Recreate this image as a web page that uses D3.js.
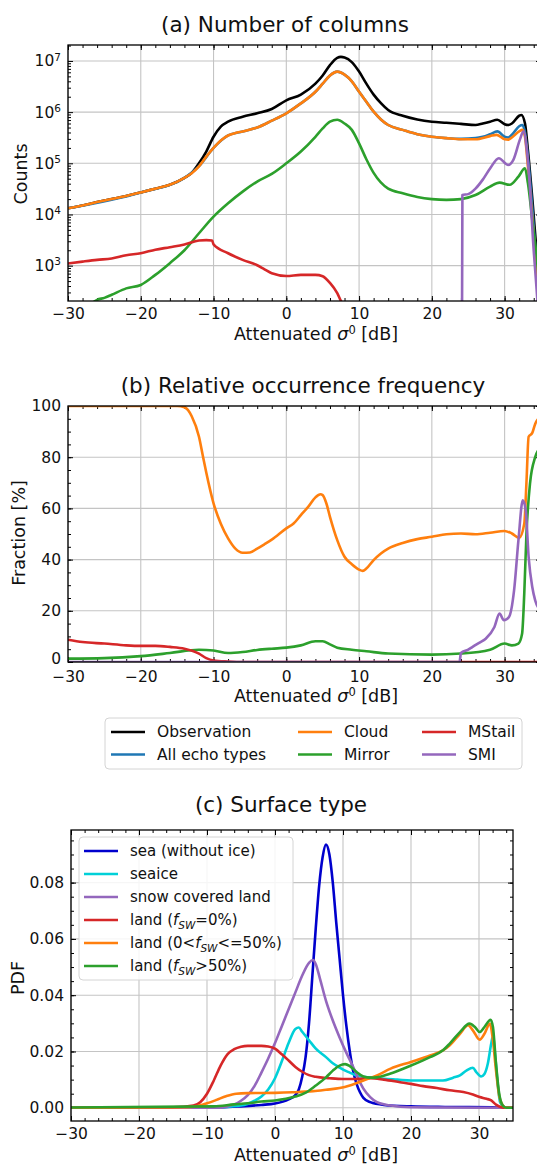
<!DOCTYPE html>
<html>
<head>
<meta charset="utf-8">
<script src="https://cdn.jsdelivr.net/npm/d3@7"></script>
<style>
  body { margin: 0; background: #fff; }
  text { font-family: "DejaVu Sans", sans-serif; fill: #111; }
</style>
</head>
<body>
<div id="main"></div>
<script>
// ---- data: panel (a) number of columns, [sigma0 dB, counts]
const obsCounts = [[-30,1.32e4],[-28,1.5e4],[-26,1.75e4],[-24,2.0e4],[-22,2.3e4],[-20,2.7e4],[-18,3.2e4],[-16,3.8e4],[-14,5.2e4],[-13,6.5e4],[-12,1.0e5],[-11,1.7e5],[-10,3.3e5],[-9,5.2e5],[-8,6.5e5],[-6,8.1e5],[-4,9.5e5],[-2,1.15e6],[0,1.7e6],[2,2.2e6],[4,3.6e6],[5,5.2e6],[6,8.3e6],[7,1.15e7],[7.5,1.2e7],[8,1.17e7],[9,9.5e6],[10,6.2e6],[11,3.6e6],[12,2.2e6],[13,1.5e6],[14,1.1e6],[16,8.5e5],[18,7.2e5],[20,6.5e5],[22,6.2e5],[24,5.9e5],[26,5.6e5],[27,6.0e5],[28,6.5e5],[29,7.1e5],[30,5.8e5],[30.5,5.6e5],[31,6.0e5],[32,8.5e5],[32.3,8.8e5],[32.8,6.0e5],[33.2,1.8e5],[33.9,1.4e4],[34.4,1.8e3],[35,150]];
const allCounts = [[-30,1.32e4],[-20,2.7e4],[-14,5.2e4],[-12,8.8e4],[-10,2.0e5],[-8,3.5e5],[-6,4.2e5],[-4,5.0e5],[-2,6.8e5],[0,9.5e5],[2,1.48e6],[4,2.5e6],[5,3.6e6],[6,5.2e6],[7,6.2e6],[8,5.4e6],[9,4.0e6],[10,2.5e6],[11,1.6e6],[12,1.02e6],[13,7.2e5],[14,5.6e5],[16,4.5e5],[18,3.7e5],[20,3.3e5],[22,3.1e5],[24,3.0e5],[26,3.1e5],[27,3.3e5],[28,3.7e5],[29,4.2e5],[30,3.3e5],[30.5,3.2e5],[31,3.6e5],[32,5.3e5],[32.45,5.6e5],[32.8,4.0e5],[33.2,1.35e5],[33.9,9e3],[34.4,950],[35,100]];
const cloudCounts = [[-30,1.32e4],[-28,1.5e4],[-26,1.75e4],[-24,2.0e4],[-22,2.3e4],[-20,2.7e4],[-18,3.2e4],[-16,3.8e4],[-14,5.2e4],[-13,6.4e4],[-12,8.7e4],[-11,1.35e5],[-10,2.0e5],[-9,2.8e5],[-8,3.5e5],[-7,3.9e5],[-6,4.2e5],[-4,5.0e5],[-2,6.8e5],[0,9.5e5],[2,1.48e6],[4,2.5e6],[5,3.6e6],[6,5.2e6],[7,6.2e6],[8,5.4e6],[9,4.0e6],[10,2.5e6],[11,1.6e6],[12,1.02e6],[13,7.2e5],[14,5.6e5],[16,4.5e5],[18,3.7e5],[20,3.3e5],[22,3.1e5],[24,2.95e5],[26,2.95e5],[28,3.4e5],[28.9,3.6e5],[30,2.95e5],[30.5,2.9e5],[31,3.2e5],[32,4.2e5],[32.45,4.5e5],[32.8,3.3e5],[33.2,8.7e4],[33.9,5.8e3],[34.4,720],[35,80]];
const mirrorCounts = [[-27.5,150],[-26,215],[-25,235],[-24,270],[-22,360],[-20,420],[-18,660],[-16,1.12e3],[-14,2.0e3],[-12,4.3e3],[-10,9.1e3],[-8,1.66e4],[-6,2.8e4],[-4,4.4e4],[-2,6.2e4],[0,1.0e5],[2,1.7e5],[4,3.3e5],[5,4.8e5],[6,6.5e5],[7,7.1e5],[8,6.0e5],[9,4.5e5],[10,2.45e5],[11,1.2e5],[12,6.5e4],[14,3.2e4],[16,2.6e4],[18,2.2e4],[20,2.0e4],[22,1.93e4],[24,2.0e4],[26,2.4e4],[28,3.5e4],[29.3,4.2e4],[30.7,3.8e4],[31.9,5.5e4],[32.8,8.0e4],[33.2,4.1e4],[33.9,5.8e3],[34.4,1.5e3],[35,150]];
const mstailCounts = [[-30,1.1e3],[-28,1.2e3],[-26,1.3e3],[-24,1.38e3],[-22,1.6e3],[-20,1.75e3],[-18,2.05e3],[-16,2.3e3],[-14,2.6e3],[-12,3.1e3],[-11,3.15e3],[-10.2,3.1e3],[-10,2.6e3],[-8,1.75e3],[-6,1.3e3],[-4,1.02e3],[-3,850],[-2,710],[0,630],[2,660],[4,660],[5,620],[6,460],[7,290],[7.5,205],[8,150]];
const smiCounts = [[24.1,1],[24.2,2.4e4],[25,2.5e4],[26,3.2e4],[27,4.8e4],[28,7.9e4],[29.2,1.26e5],[30.5,9.3e4],[31.2,1.17e5],[32.1,2.9e5],[32.6,4.2e5],[33.05,1.8e5],[33.5,3.0e4],[33.9,3.2e3],[34.4,340],[35,20]];

// ---- data: panel (b) relative occurrence frequency [%]
const cloudFrac = [[-30,100],[-20,100],[-15,100],[-14,99.5],[-13,96],[-12,88],[-11.5,81],[-11,74],[-10,62],[-9,54],[-8,48.3],[-7,44.3],[-6,42.7],[-5,42.8],[-4,44.3],[-3,46],[-2,47.8],[0,52.2],[1,54.1],[2,57.4],[3,60.6],[4,64.3],[4.7,65.5],[5,65.2],[5.5,62],[6,56.7],[7,47.6],[8,41.1],[9,38.2],[10,36.1],[10.5,35.6],[11,36.5],[12,39.8],[13,42.4],[14,44.3],[16,46.5],[18,48],[20,48.9],[22,49.9],[24,50.2],[26,49.9],[28,50.5],[30,51.2],[31,50.2],[32,48.5],[32.7,54],[33,70],[33.3,88],[33.8,89.5],[34.2,93],[35,96]];
const mirrorFrac = [[-30,1.3],[-25,1.5],[-20,2.3],[-16,3.5],[-12,4.8],[-10,4.5],[-8,3.5],[-6,3.9],[-4,4.7],[-2,5.2],[0,5.6],[2,6.5],[4,8.1],[5,8.1],[6,6.9],[7,5.6],[9,4.8],[11,4.2],[14,3.3],[20,2.9],[24,3.3],[28,4.8],[30,7.2],[31,6.5],[31.9,7.2],[32.4,11],[32.7,26.7],[33,50],[33.5,70],[34.2,80],[35,84]];
const mstailFrac = [[-30,8.7],[-28,7.8],[-25,7.2],[-22,6.5],[-20,6.3],[-18,6.3],[-16,5.9],[-14,5.2],[-12,3.3],[-11,1.5],[-10,0.6],[-8,0.2],[-6,0],[35,0]];
const smiFrac = [[-30,0],[23.8,0],[24,3.5],[25,4.8],[25.6,5.9],[26.5,7.5],[27.4,9.1],[28.6,13.7],[29.3,18.9],[29.9,16.3],[30.6,17.6],[31.3,28],[31.9,47.6],[32.5,63.2],[32.9,59.3],[33.3,41],[33.8,29.3],[34.2,24.1],[35,20]];

// ---- data: panel (c) PDF by surface type
const seaPdf = [[-30,0],[-10,0],[-5,0.0005],[-2,0.001],[0,0.0015],[2,0.003],[3,0.0045],[3.5,0.0065],[4,0.011],[4.5,0.018],[5,0.030],[5.5,0.047],[6,0.064],[6.5,0.079],[7,0.089],[7.5,0.0935],[8,0.090],[8.5,0.080],[9,0.066],[9.5,0.053],[10,0.040],[10.5,0.029],[11,0.020],[11.5,0.013],[12,0.0085],[12.5,0.0055],[13,0.0035],[14,0.002],[16,0.001],[20,0.0005],[25,0.0003],[32,0.0002],[33,0],[35,0]];
const seaicePdf = [[-30,0],[-10,0],[-5,0.0008],[-3,0.0025],[-2,0.004],[-1,0.0065],[0,0.0105],[1,0.0165],[2,0.023],[3,0.028],[3.5,0.0285],[4,0.027],[5,0.024],[6,0.021],[7.5,0.018],[8.5,0.0158],[9.5,0.0143],[10.5,0.013],[11,0.0125],[12,0.0115],[13,0.011],[14,0.0108],[16,0.0103],[18,0.01],[20,0.0097],[24.7,0.0097],[26.2,0.0107],[27.2,0.0115],[28.2,0.0133],[29.1,0.0142],[29.6,0.0127],[30.3,0.0111],[30.8,0.012],[31.3,0.0157],[31.8,0.0228],[32.05,0.0255],[32.4,0.018],[32.8,0.0074],[33.1,0.002],[33.8,0.0002],[35,0]];
const snowPdf = [[-30,0],[-8,0],[-7,0.0005],[-6,0.0012],[-5,0.0025],[-4,0.0045],[-3,0.0078],[-2,0.0125],[-1,0.0175],[0,0.023],[1,0.029],[2,0.035],[3,0.041],[4,0.047],[5,0.0515],[5.6,0.0525],[6,0.051],[6.6,0.046],[7.5,0.038],[8.5,0.031],[9.5,0.025],[10.5,0.0195],[11.5,0.0145],[12.5,0.009],[13,0.0068],[14,0.0038],[15,0.002],[17,0.0008],[20,0.0002],[33,0],[35,0]];
const land0Pdf = [[-30,0],[-15,0.0002],[-12,0.0008],[-11,0.002],[-10,0.005],[-9,0.0097],[-8,0.015],[-7,0.019],[-6,0.0208],[-5,0.0217],[-4,0.022],[-2,0.022],[-1,0.0218],[0,0.021],[1,0.019],[2,0.0168],[3,0.0145],[4,0.0128],[5,0.0116],[6,0.011],[8,0.0105],[10,0.0102],[12,0.0102],[14,0.0105],[16,0.01],[18.4,0.0091],[20,0.0085],[21.8,0.0077],[23.8,0.007],[25.7,0.0062],[27.7,0.0056],[29.1,0.0047],[30.1,0.0038],[31.1,0.0032],[31.8,0.0026],[32.5,0.0011],[33.3,0.0002],[34,0],[35,0]];
const land050Pdf = [[-30,0],[-13,0.0002],[-11.6,0.0005],[-10,0.0016],[-8.6,0.0028],[-7.2,0.0041],[-5.7,0.005],[-4,0.0052],[0,0.0053],[2.6,0.0055],[5.6,0.0059],[7.5,0.0064],[9.5,0.007],[11,0.0079],[13,0.0097],[15,0.0115],[17,0.0139],[20,0.0163],[22.8,0.0186],[24.7,0.0204],[25.7,0.0222],[27.2,0.0263],[28.4,0.0293],[29.1,0.0275],[30.1,0.0242],[30.8,0.0263],[31.6,0.0299],[32,0.025],[32.5,0.0133],[33,0.0038],[33.5,0.0008],[34,0],[35,0]];
const land50Pdf = [[-30,0.0001],[-9,0.0005],[-6,0.0012],[-4,0.0016],[-2,0.0022],[0,0.0026],[1.6,0.0032],[3,0.004],[4.6,0.0055],[6,0.0079],[7.5,0.0108],[8.5,0.0132],[9.5,0.015],[10.3,0.0155],[11,0.0148],[12,0.0127],[13,0.0111],[14,0.0107],[15,0.0108],[16.9,0.0121],[20,0.015],[22.8,0.018],[24.7,0.0204],[25.7,0.0228],[27.2,0.0269],[28.6,0.0299],[29.4,0.0287],[30.1,0.0269],[30.8,0.0287],[31.7,0.0313],[32.05,0.0287],[32.5,0.0157],[32.9,0.0062],[33.5,0.0008],[34,0],[35,0]];

// ---- labels / ticks
const echoNames = ["Observation", "All echo types", "Cloud", "Mirror", "MStail", "SMI"];
const echoColors = ["#000000", "#1f77b4", "#ff7f0e", "#2ca02c", "#d62728", "#9467bd"];
const surfaceColors = ["#0000cd", "#00d0d8", "#9467bd", "#d62728", "#ff7f0e", "#2ca02c"];
// label pieces: [text, "i" italic / "s" italic subscript]
const surfaceLabels = [
  [["sea (without ice)"]],
  [["seaice"]],
  [["snow covered land"]],
  [["land ("], ["f", "i"], ["SW", "s"], ["=0%)"]],
  [["land (0<"], ["f", "i"], ["SW", "s"], ["<=50%)"]],
  [["land ("], ["f", "i"], ["SW", "s"], [">50%)"]]
];
const xTicks = [-30, -20, -10, 0, 10, 20, 30];
const countTicks = [1e3, 1e4, 1e5, 1e6, 1e7];
const fracTicks = [0, 20, 40, 60, 80, 100];
const pdfTicks = [0, 0.02, 0.04, 0.06, 0.08];

const W = 537, H = 1165;
const svg = d3.select("#main").append("svg").attr("width", W).attr("height", H);

const range = (a, b, s) => d3.range(a, b + s / 2, s).map(v => +v.toFixed(4));

function frame(box, x, y, o) {
  const g = svg.append("g");
  // grid
  g.append("g").selectAll("line").data(o.xMajor).join("line")
    .attr("x1", d => x(d)).attr("x2", d => x(d)).attr("y1", box.t).attr("y2", box.b)
    .attr("stroke", "#c4c4c4").attr("stroke-width", 1.1);
  g.append("g").selectAll("line").data(o.yMajor).join("line")
    .attr("y1", d => y(d)).attr("y2", d => y(d)).attr("x1", box.l).attr("x2", box.r)
    .attr("stroke", "#c4c4c4").attr("stroke-width", 1.1);

  const makers = [() => d3.axisBottom(x), () => d3.axisTop(x), () => d3.axisLeft(y), () => d3.axisRight(y)];
  const places = [`translate(0,${box.b})`, `translate(0,${box.t})`, `translate(${box.l},0)`, `translate(${box.r},0)`];
  makers.forEach((mk, k) => {
    const minor = k < 2 ? o.xMinor : o.yMinor;
    const major = k < 2 ? o.xMajor : o.yMajor;
    const gm = g.append("g").attr("transform", places[k])
      .call(mk().tickValues(minor).tickSize(-3).tickFormat(""));
    gm.select(".domain").remove();

    const ax = mk().tickValues(major).tickSize(-5).tickPadding(k === 0 ? (o.xPad || 7) : 7);
    if (k === 1 || k === 3) ax.tickFormat("");
    else if (k === 0) ax.tickFormat(d3.format("d"));
    else if (o.yFormat) ax.tickFormat(o.yFormat);
    const gM = g.append("g").attr("transform", places[k]).call(ax);
    gM.select(".domain").remove();
    gM.selectAll("text").style("font-size", "15.5px").attr("fill", "#111");
    if (k === 2 && o.nudgeZero) gM.selectAll("text").filter(d => d === 0).attr("dy", "0.1em");
    if (k === 2 && o.log) {
      gM.selectAll("text").each(function(d) {
        const t = d3.select(this).text("10");
        t.append("tspan").attr("dy", "-0.55em").style("font-size", "10.5px").text(Math.round(Math.log10(d)));
      });
    }
  });
  g.selectAll(".tick line").attr("stroke", "#000").attr("stroke-width", 1);

  svg.append("clipPath").attr("id", o.id).append("rect")
    .attr("x", box.l).attr("y", box.t).attr("width", box.r - box.l).attr("height", box.b - box.t);
}

function spine(box) {
  svg.append("rect").attr("x", box.l).attr("y", box.t)
    .attr("width", box.r - box.l).attr("height", box.b - box.t)
    .attr("fill", "none").attr("stroke", "#000").attr("stroke-width", 1.3);
}

function drawLines(series, colors, x, y, id) {
  const line = d3.line().x(d => x(d[0])).y(d => y(d[1])).curve(d3.curveMonotoneX);
  svg.append("g").attr("clip-path", `url(#${id})`)
    .selectAll("path").data(series).join("path")
    .attr("d", d => line(d))
    .attr("fill", "none")
    .attr("stroke", (d, i) => colors[i])
    .attr("stroke-width", 2.6)
    .attr("stroke-linejoin", "round");
}

function xLabel(cx, yb) {
  const t = svg.append("text").attr("x", cx).attr("y", yb).attr("text-anchor", "middle").style("font-size", "17.5px");
  t.append("tspan").text("Attenuated ");
  t.append("tspan").style("font-style", "italic").text("σ");
  t.append("tspan").attr("dy", -6).style("font-size", "11.5px").text("0");
  t.append("tspan").attr("dy", 6).text(" [dB]");
}

function yLabel(txt, cx, cy) {
  svg.append("text").attr("transform", `translate(${cx},${cy}) rotate(-90)`)
    .attr("text-anchor", "middle").attr("dominant-baseline", "central")
    .style("font-size", "17.5px").text(txt);
}

function title(txt, cx, yb) {
  svg.append("text").attr("x", cx).attr("y", yb).attr("text-anchor", "middle")
    .style("font-size", "21.5px").text(txt);
}

// ---------- panel (a)
const boxA = { l: 68, r: 541, t: 45, b: 301 };
const xA = d3.scaleLinear().domain([-30, 35]).range([boxA.l, boxA.r]);
const yA = d3.scaleLog().domain([204, 2.05e7]).range([boxA.b, boxA.t]);
const logMinor = [];
[1e2, 1e3, 1e4, 1e5, 1e6, 1e7].forEach(p => d3.range(2, 10).forEach(m => { if (p * m >= 204 && p * m <= 2.05e7) logMinor.push(p * m); }));
frame(boxA, xA, yA, { id: "clipA", xMajor: xTicks, xMinor: range(-30, 34, 2), yMajor: countTicks, yMinor: logMinor, log: true });
drawLines([obsCounts, allCounts, cloudCounts, mirrorCounts, mstailCounts, smiCounts], echoColors, xA, yA, "clipA");
spine(boxA);
title("(a) Number of columns", 285, 32);
yLabel("Counts", 21, 174);
xLabel(316, 340);

// ---------- panel (b)
const boxB = { l: 68, r: 541, t: 406, b: 662 };
const xB = d3.scaleLinear().domain([-30, 35]).range([boxB.l, boxB.r]);
const yB = d3.scaleLinear().domain([0, 100]).range([boxB.b, boxB.t]);
frame(boxB, xB, yB, { id: "clipB", xMajor: xTicks, xMinor: range(-30, 34, 2), yMajor: fracTicks, yMinor: range(0, 100, 5), yFormat: d3.format("d"), xPad: 9, nudgeZero: true });
drawLines([cloudFrac, mirrorFrac, mstailFrac, smiFrac], echoColors.slice(2), xB, yB, "clipB");
spine(boxB);
title("(b) Relative occurrence frequency", 303, 393);
yLabel("Fraction [%]", 19, 533);
xLabel(316, 702);

// legend for (a)/(b)
const legAB = svg.append("g");
legAB.append("rect").attr("x", 105).attr("y", 718).attr("width", 417).attr("height", 51)
  .attr("rx", 4).attr("fill", "#fff").attr("stroke", "#d4d4d4").attr("stroke-width", 1);
const legCols = [111, 298, 422];
echoNames.forEach((name, i) => {
  const cx = legCols[Math.floor(i / 2)], cy = 732 + (i % 2) * 22.5;
  legAB.append("line").attr("x1", cx).attr("x2", cx + 34).attr("y1", cy).attr("y2", cy)
    .attr("stroke", echoColors[i]).attr("stroke-width", 2.6);
  legAB.append("text").attr("x", cx + 46).attr("y", cy).attr("dominant-baseline", "central")
    .style("font-size", "15.5px").text(name);
});

// ---------- panel (c)
const boxC = { l: 71, r: 513, t: 830, b: 1121 };
const xC = d3.scaleLinear().domain([-30, 35]).range([boxC.l, boxC.r]);
const yC = d3.scaleLinear().domain([-0.0047, 0.0987]).range([boxC.b, boxC.t]);
frame(boxC, xC, yC, { id: "clipC", xMajor: xTicks, xMinor: range(-30, 34, 2), yMajor: pdfTicks, yMinor: range(0, 0.095, 0.005), yFormat: d3.format(".2f") });
drawLines([seaPdf, seaicePdf, snowPdf, land0Pdf, land050Pdf, land50Pdf], surfaceColors, xC, yC, "clipC");
spine(boxC);
title("(c) Surface type", 281, 812);
yLabel("PDF", 18, 978);
xLabel(316, 1161);

const legC = svg.append("g");
legC.append("rect").attr("x", 79).attr("y", 837).attr("width", 214).attr("height", 143)
  .attr("rx", 4).attr("fill", "#fff").attr("fill-opacity", 0.85).attr("stroke", "#d4d4d4").attr("stroke-width", 1);
surfaceLabels.forEach((parts, i) => {
  const cy = 851 + i * 23;
  legC.append("line").attr("x1", 84).attr("x2", 118).attr("y1", cy).attr("y2", cy)
    .attr("stroke", surfaceColors[i]).attr("stroke-width", 2.6);
  const t = legC.append("text").attr("x", 130).attr("y", cy + 5).style("font-size", "15px");
  parts.forEach(([s, f], j) => {
    const sp = t.append("tspan").text(s);
    if (f === "i") sp.style("font-style", "italic");
    if (f === "s") sp.style("font-style", "italic").style("font-size", "10.5px").attr("dy", 4);
    if (f === undefined && j > 0) sp.attr("dy", -4);
  });
});
</script>
</body>
</html>
